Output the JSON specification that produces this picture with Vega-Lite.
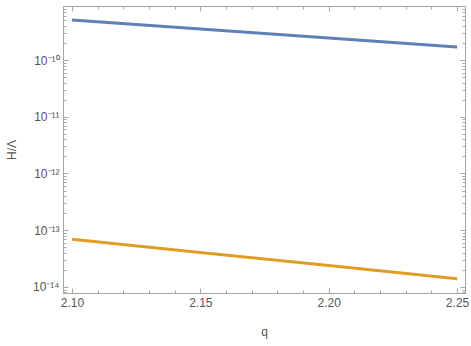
{
  "$schema": "https://vega.github.io/schema/vega-lite/v6.json",
  "width": 402,
  "height": 287,
  "autosize": "none",
  "padding": {"left": 63, "top": 6, "right": 6, "bottom": 53},
  "background": "white",
  "config": {
    "view": {"stroke": "#a6a6a6", "strokeWidth": 1},
    "axis": {
      "grid": false,
      "domainColor": "#a6a6a6",
      "tickColor": "#a6a6a6",
      "labelColor": "#555555",
      "titleColor": "#555555",
      "labelFont": "Liberation Sans",
      "titleFont": "Liberation Sans",
      "labelFontSize": 12,
      "titleFontSize": 12,
      "titleFontWeight": "normal"
    }
  },
  "data": {
    "values": [
      {"q": 2.10, "v": 5.07e-10, "s": "a"},
      {"q": 2.15, "v": 3.52e-10, "s": "a"},
      {"q": 2.20, "v": 2.44e-10, "s": "a"},
      {"q": 2.25, "v": 1.70e-10, "s": "a"},
      {"q": 2.10, "v": 6.92e-14, "s": "b"},
      {"q": 2.15, "v": 4.06e-14, "s": "b"},
      {"q": 2.20, "v": 2.38e-14, "s": "b"},
      {"q": 2.25, "v": 1.40e-14, "s": "b"}
    ]
  },
  "layer": [
    {
      "mark": {"type": "line", "strokeWidth": 3, "clip": true},
      "encoding": {
        "x": {
          "field": "q", "type": "quantitative",
          "scale": {"domain": [2.0965, 2.2531], "nice": false, "zero": false},
          "axis": {
            "orient": "bottom", "title": "q", "titlePadding": 18,
            "values": [2.10,2.11,2.12,2.13,2.14,2.15,2.16,2.17,2.18,2.19,2.20,2.21,2.22,2.23,2.24,2.25],
            "labelExpr": "indexof([2.1,2.15,2.2,2.25], datum.value) >= 0 ? format(datum.value, '.2f') : ''",
            "tickSize": {"condition": {"test": "indexof([2.1,2.15,2.2,2.25], datum.value) >= 0", "value": -5}, "value": -3},
            "labelPadding": 9, "labelFlush": false
          }
        },
        "y": {
          "field": "v", "type": "quantitative",
          "scale": {"type": "log", "domain": [7.83e-15, 8.95e-10], "nice": false},
          "axis": {
            "orient": "left", "title": "H/Λ", "titlePadding": 14,
            "values": [8e-15,9e-15,1e-14,2e-14,3e-14,4e-14,5e-14,6e-14,7e-14,8e-14,9e-14,1e-13,2e-13,3e-13,4e-13,5e-13,6e-13,7e-13,8e-13,9e-13,1e-12,2e-12,3e-12,4e-12,5e-12,6e-12,7e-12,8e-12,9e-12,1e-11,2e-11,3e-11,4e-11,5e-11,6e-11,7e-11,8e-11,9e-11,1e-10,2e-10,3e-10,4e-10,5e-10,6e-10,7e-10,8e-10],
            "labelExpr": "datum.value == 1e-10 ? '10⁻¹⁰' : datum.value == 1e-11 ? '10⁻¹¹' : datum.value == 1e-12 ? '10⁻¹²' : datum.value == 1e-13 ? '10⁻¹³' : datum.value == 1e-14 ? '10⁻¹⁴' : ''",
            "tickSize": {"condition": {"test": "indexof([1e-10,1e-11,1e-12,1e-13,1e-14], datum.value) >= 0", "value": -5}, "value": -3},
            "labelPadding": 9
          }
        },
        "color": {
          "field": "s", "type": "nominal", "legend": null,
          "scale": {"domain": ["a", "b"], "range": ["#5E81B5", "#E19C24"]}
        }
      }
    },
    {
      "mark": {"type": "line", "strokeOpacity": 0},
      "encoding": {
        "x": {
          "field": "q", "type": "quantitative",
          "axis": {
            "orient": "top", "title": null, "labels": false,
            "values": [2.10,2.11,2.12,2.13,2.14,2.15,2.16,2.17,2.18,2.19,2.20,2.21,2.22,2.23,2.24,2.25],
            "tickSize": {"condition": {"test": "indexof([2.1,2.15,2.2,2.25], datum.value) >= 0", "value": -5}, "value": -3}
          }
        },
        "y": {
          "field": "v", "type": "quantitative",
          "axis": {
            "orient": "right", "title": null, "labels": false,
            "values": [8e-15,9e-15,1e-14,2e-14,3e-14,4e-14,5e-14,6e-14,7e-14,8e-14,9e-14,1e-13,2e-13,3e-13,4e-13,5e-13,6e-13,7e-13,8e-13,9e-13,1e-12,2e-12,3e-12,4e-12,5e-12,6e-12,7e-12,8e-12,9e-12,1e-11,2e-11,3e-11,4e-11,5e-11,6e-11,7e-11,8e-11,9e-11,1e-10,2e-10,3e-10,4e-10,5e-10,6e-10,7e-10,8e-10],
            "tickSize": {"condition": {"test": "indexof([1e-10,1e-11,1e-12,1e-13,1e-14], datum.value) >= 0", "value": -5}, "value": -3}
          }
        },
        "detail": {"field": "s", "type": "nominal"}
      }
    }
  ]
}
